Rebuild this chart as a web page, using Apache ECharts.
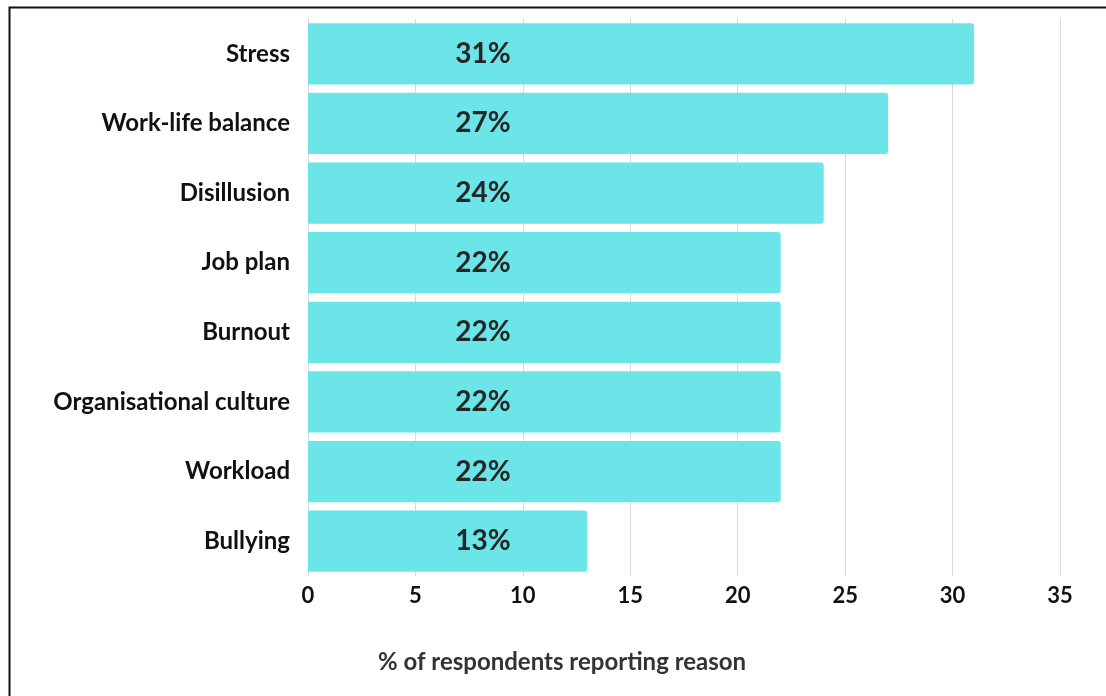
<!DOCTYPE html>
<html>
<head>
<meta charset="utf-8">
<script src="https://cdn.jsdelivr.net/npm/echarts@6/dist/echarts.min.js"></script>
<style>
  html, body { margin: 0; padding: 0; background: #fff; }
  #grafico { width: 1106px; height: 696px; }
</style>
</head>
<body>
<div id="grafico"></div>
<script>
// datos (de abajo hacia arriba, como los dibuja el eje de categorias)
const categorias = ["Bullying", "Workload", "Organisational culture", "Burnout", "Job plan", "Disillusion", "Work-life balance", "Stress"];
const valores = [13, 22, 22, 22, 22, 24, 27, 31];
const ticksX = [0, 5, 10, 15, 20, 25, 30, 35];
const tituloEje = "% of respondents reporting reason";

const fuente = "Lato, 'Open Sans', sans-serif";

const contenedor = document.getElementById("grafico");
const miGrafico = echarts.init(contenedor, null, { renderer: "canvas" });

const option = {
  backgroundColor: "#fff",
  animation: false,
  graphic: [
    {
      type: "rect",
      shape: { x: 9.5, y: 7.5, width: 1120, height: 720 },
      style: { fill: "none", stroke: "#111", lineWidth: 2 },
    },
    {
      type: "text",
      x: 562,
      y: 662,
      style: {
        text: tituloEje,
        align: "center",
        verticalAlign: "middle",
        fill: "#333",
        font: "bold 24px " + fuente,
      },
    },
  ],
  grid: { left: 308, right: 46, top: 19, bottom: 120 },
  xAxis: {
    type: "value",
    min: 0,
    max: ticksX[ticksX.length - 1],
    interval: 5,
    axisLine: { show: false },
    axisTick: { show: false },
    splitLine: { show: true, lineStyle: { color: "#d9d9d9", width: 1 } },
    axisLabel: {
      color: "#111",
      fontFamily: fuente,
      fontWeight: "bold",
      fontSize: 22,
      margin: 9,
    },
  },
  yAxis: {
    type: "category",
    data: categorias,
    axisLine: { show: false },
    axisTick: { show: false },
    axisLabel: {
      color: "#111",
      fontFamily: fuente,
      fontWeight: "bold",
      fontSize: 24,
      margin: 18,
    },
  },
  series: [
    {
      type: "bar",
      data: valores,
      barCategoryGap: "12%",
      itemStyle: { color: "#6be5e8", borderRadius: [0, 3, 3, 0] },
      label: {
        show: true,
        position: [175, "50%"],
        align: "center",
        verticalAlign: "middle",
        formatter: (p) => p.value + "%",
        color: "#262626",
        fontFamily: fuente,
        fontWeight: "bold",
        fontSize: 28,
      },
    },
  ],
};

miGrafico.setOption(option);
</script>
</body>
</html>
